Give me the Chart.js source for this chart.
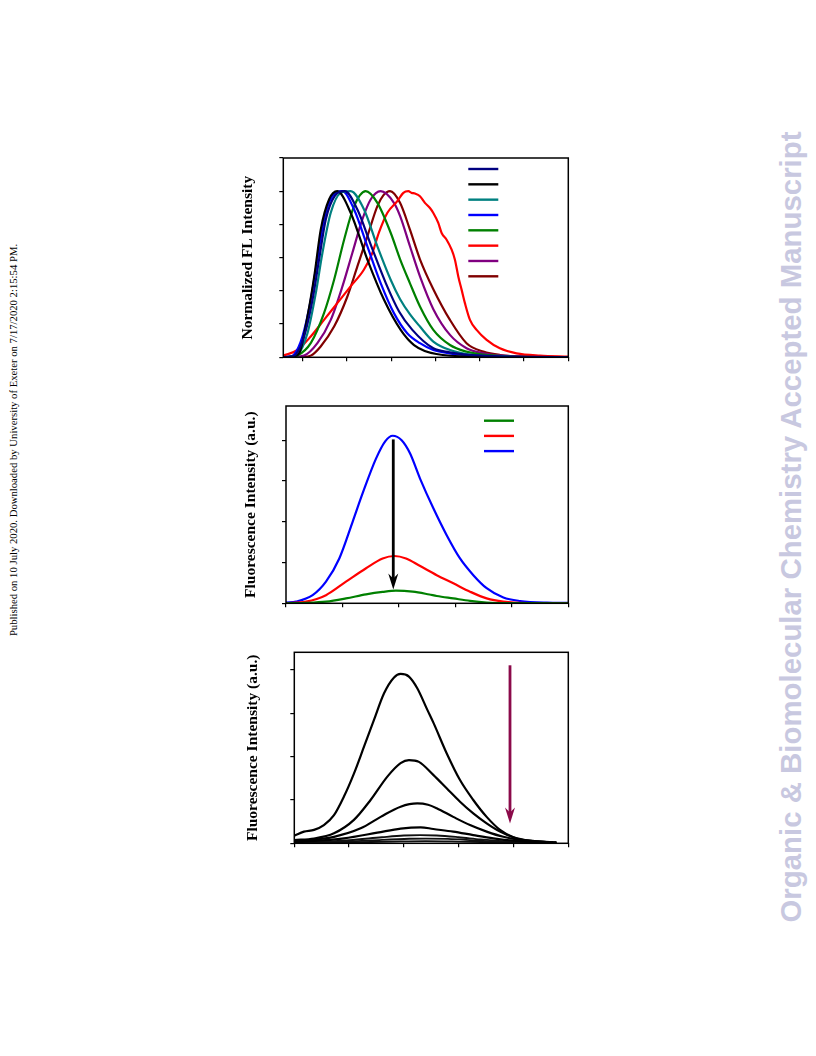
<!DOCTYPE html>
<html>
<head>
<meta charset="utf-8">
<script src="https://cdn.jsdelivr.net/npm/chart.js@4.4.0/dist/chart.umd.min.js"></script>
<style>
  body { margin: 0; background: #fff; width: 816px; height: 1056px; position: relative; overflow: hidden; }
  canvas { position: absolute; left: 0; }
  .side { position: absolute; transform-origin: 0 0; transform: rotate(-90deg) translate(-50%, -50%); white-space: nowrap; }
  #pub { left: 13px; top: 440px; font: 10.7px 'Liberation Serif', 'Times New Roman', serif; color: #000; }
  #wm { left: 791px; top: 527px; font: bold 29.4px 'Liberation Sans', Arial, sans-serif; color: #c8c8e0; }
</style>
</head>
<body>
<div id="pub" class="side">Published on 10 July 2020. Downloaded by University of Exeter on 7/17/2020 2:15:54 PM.</div>
<div id="wm" class="side">Organic &amp; Biomolecular Chemistry Accepted Manuscript</div>
<canvas id="c1" width="816" height="240" style="top:130px"></canvas>
<canvas id="c2" width="816" height="230" style="top:390px"></canvas>
<canvas id="c3" width="816" height="225" style="top:640px"></canvas>
<script>
// --- panel 1: normalized emission, 8 solvents ---
var xTicks1 = [450, 500, 550, 600, 650, 700, 750];
var yTicks1 = [0, 0.2, 0.4, 0.6, 0.8, 1.0, 1.2];
var fl_navy = [[428,0],[436,0.003],[442,0.016],[451.5,0.125],[461,0.346],[468.4,0.588],[476,0.83],[486,0.97],[497.4,1.0],[511.7,0.89],[527.5,0.668],[543.8,0.447],[558.8,0.276],[573.8,0.165],[597.5,0.054],[616,0.03],[635,0.016],[672,0.006],[710,0.002],[750,0]];
var fl_black = [[428,0],[438,0.004],[445.9,0.024],[456,0.266],[463.5,0.507],[470.3,0.769],[479.7,0.95],[489,1.0],[504.2,0.869],[523,0.588],[541.8,0.346],[560.6,0.165],[575.7,0.074],[601,0.02],[650,0.004],[700,0],[750,0]];
var fl_teal = [[428,0],[436,0.003],[444,0.016],[455.3,0.145],[464.7,0.386],[472.2,0.628],[481.6,0.87],[492.9,0.99],[504,1.0],[519.2,0.89],[534.3,0.668],[549.3,0.467],[560,0.35],[571,0.26],[582.4,0.185],[597.5,0.095],[616.3,0.044],[635,0.02],[665,0.006],[700,0.001],[750,0]];
var fl_blue = [[428,0],[434,0.004],[440,0.016],[449.6,0.125],[459,0.346],[466.5,0.588],[474,0.83],[483.5,0.97],[494.8,1.0],[508,0.89],[523,0.668],[538,0.447],[553,0.266],[568,0.145],[582.4,0.085],[597.5,0.044],[616,0.024],[635,0.014],[672,0.004],[750,0]];
var fl_green = [[428,0],[436,0.002],[444,0.01],[459,0.085],[474,0.266],[485.4,0.467],[496.7,0.708],[508,0.91],[521,1.0],[534.3,0.93],[549.3,0.75],[560,0.59],[571,0.447],[582.4,0.306],[597.5,0.165],[616.3,0.074],[635,0.034],[654,0.016],[680,0.006],[720,0.001],[750,0]];
var fl_red = [[428,0.01],[444,0.044],[459,0.125],[474,0.225],[489,0.326],[504,0.427],[519,0.527],[528.6,0.628],[536,0.75],[545.6,0.87],[556.8,0.94],[563.6,0.99],[569.3,1.0],[573,0.99],[576.8,0.986],[582.4,0.97],[588,0.93],[593.7,0.899],[597.5,0.869],[603.1,0.809],[606.9,0.748],[612.5,0.708],[618.2,0.648],[621.9,0.588],[625.7,0.487],[629.5,0.406],[633.2,0.326],[638.9,0.225],[646.4,0.165],[657.7,0.105],[672.7,0.054],[691.5,0.024],[718,0.01],[750,0.004]];
var fl_purple = [[428,0],[440,0.002],[451.5,0.01],[466.5,0.085],[481.6,0.225],[494.8,0.427],[506,0.628],[517.3,0.83],[526.7,0.95],[538,1.0],[553,0.93],[560,0.85],[571,0.67],[582.4,0.487],[597.5,0.29],[616.3,0.135],[635,0.055],[654,0.024],[680,0.008],[718,0.003],[750,0]];
var fl_maroon = [[428,0],[450,0.002],[459,0.01],[470,0.064],[485.4,0.185],[500.4,0.366],[511.7,0.547],[523,0.728],[534.3,0.91],[541,0.975],[548.6,1.0],[559.9,0.93],[571,0.77],[582.4,0.59],[597.5,0.41],[616.3,0.225],[635,0.085],[654,0.034],[672.7,0.014],[710,0.004],[750,0]];

// --- panel 2: quenching, 3 spectra ---
var xTicks2 = [400, 450, 500, 550, 600, 650];
var yTicks2 = [0, 1, 2, 3, 4];
var q_green = [[400,0],[418,0.01],[435.4,0.04],[453.1,0.12],[470.9,0.22],[485.6,0.28],[497.4,0.31],[512.2,0.285],[527,0.215],[533.5,0.18],[548.2,0.12],[563,0.06],[577.7,0.02],[595,0.003],[650,0]];
var q_red = [[400,0.005],[417.7,0.04],[435.4,0.2],[453.1,0.53],[470.9,0.86],[485.6,1.1],[496,1.16],[506.3,1.1],[518.4,0.92],[533.5,0.69],[548.2,0.49],[563,0.285],[577.7,0.12],[592.5,0.04],[613,0.005],[650,0]];
var q_blue = [[400,0.015],[408.9,0.04],[423.6,0.2],[435.4,0.53],[447.2,1.1],[459,2.0],[467.9,2.7],[479.7,3.55],[488,3.98],[494.5,4.11],[502.4,4.0],[509.8,3.68],[518.7,3.06],[530.5,2.33],[542.3,1.67],[554.1,1.1],[565.9,0.69],[577.7,0.37],[592.5,0.14],[607.3,0.056],[631,0.016],[650,0.01]];
var arrow2 = [495, 4.02, 0.34];

// --- panel 3: titration series ---
var xTicks3 = [400, 450, 500, 550, 600, 650];
var yTicks3 = [0, 1, 2, 3, 4];
var t1 = [[400,0.176],[408.8,0.27],[418,0.31],[427,0.42],[436.2,0.65],[445.3,1.08],[454.4,1.61],[463.6,2.23],[472.7,2.85],[481.8,3.46],[491,3.83],[497,3.91],[504.6,3.85],[512.2,3.58],[521.4,3.08],[527,2.78],[539,2.08],[551.2,1.46],[563.3,1.0],[575.5,0.61],[587.7,0.31],[599.8,0.14],[612,0.06],[630,0.03],[639.4,0.015]];
var t2 = [[400,0.076],[418,0.11],[436.2,0.23],[454.4,0.54],[469.6,1.0],[484.9,1.54],[497,1.85],[504.6,1.92],[513.7,1.88],[526.8,1.58],[539,1.27],[551.2,0.96],[563.3,0.69],[575.5,0.46],[587.7,0.27],[599.8,0.14],[615,0.06],[636,0.02]];
var t3 = [[400,0.038],[436.2,0.15],[460.5,0.345],[478.8,0.61],[497,0.845],[512.2,0.92],[522,0.89],[529.9,0.81],[545,0.61],[560.3,0.42],[575.5,0.27],[590.7,0.15],[605.9,0.08],[630,0.03],[639,0.02]];
var t4 = [[400,0.023],[445.3,0.115],[475.7,0.245],[497,0.34],[515.3,0.37],[526.8,0.33],[545,0.27],[563.3,0.19],[581.6,0.115],[599.8,0.06],[624,0.023],[639,0.015]];
var t5 = [[400,0.01],[450,0.07],[480,0.14],[500,0.18],[515,0.19],[530,0.18],[550,0.14],[570,0.09],[590,0.05],[610,0.025],[639,0.008]];
var t6 = [[400,0.005],[450,0.04],[480,0.08],[505,0.105],[520,0.11],[540,0.1],[560,0.075],[580,0.045],[600,0.025],[639,0.005]];
var t7 = [[400,0.003],[450,0.02],[490,0.04],[520,0.05],[550,0.04],[590,0.02],[639,0.003]];
var arrow3 = [596.8, 4.11, 0.46];

function pts(a) {
    return a.map(p => ({x: p[0], y: p[1]}));
}

function line(arr, color, w) {
    return {data: pts(arr), borderColor: color, borderWidth: w || 2.2, pointRadius: 0,
        cubicInterpolationMode: 'monotone', fill: false};
}

function axis(min, max, ticks, title, pad) {
    var s = {
        type: 'linear', min: min, max: max,
        afterBuildTicks: sc => { sc.ticks = ticks.map(v => ({value: v})); },
        ticks: {display: false},
        grid: {drawOnChartArea: false, drawTicks: true, tickLength: 4, color: '#000', lineWidth: 1.2},
        border: {display: false}
    };
    if (title) {
        s.title = {display: true, text: title, color: '#000',
            font: {family: "'Liberation Serif', 'Times New Roman', serif", size: 15.5, weight: 'bold'},
            padding: {top: 0, bottom: pad}};
    }
    return s;
}

// box round the plot area
var framePlugin = {
    id: 'frame',
    afterDraw: function (chart) {
        var a = chart.chartArea, ctx = chart.ctx;
        ctx.save();
        ctx.strokeStyle = '#000';
        ctx.lineWidth = 1.5;
        ctx.strokeRect(a.left, a.top, a.right - a.left, a.bottom - a.top);
        ctx.restore();
    }
};

// legend samples without text
var keyPlugin = {
    id: 'lineKey',
    afterDatasetsDraw: function (chart, args, o) {
        if (!o.show) return;
        var a = chart.chartArea, ctx = chart.ctx;
        ctx.save();
        ctx.lineWidth = 2.4;
        chart.data.datasets.forEach((ds, i) => {
            var y = a.top + o.top + i * o.step;
            ctx.strokeStyle = ds.borderColor;
            ctx.beginPath();
            ctx.moveTo(a.left + o.left, y);
            ctx.lineTo(a.left + o.left + 30, y);
            ctx.stroke();
        });
        ctx.restore();
    }
};

var arrowPlugin = {
    id: 'arrow',
    afterDatasetsDraw: function (chart, args, o) {
        if (!o.at) return;
        var ctx = chart.ctx;
        var x = chart.scales.x.getPixelForValue(o.at[0]);
        var y0 = chart.scales.y.getPixelForValue(o.at[1]);
        var y1 = chart.scales.y.getPixelForValue(o.at[2]);
        ctx.save();
        ctx.strokeStyle = o.color;
        ctx.fillStyle = o.color;
        ctx.lineWidth = 2.8;
        ctx.beginPath();
        ctx.moveTo(x, y0);
        ctx.lineTo(x, y1 - 10);
        ctx.stroke();
        ctx.beginPath();
        ctx.moveTo(x, y1);
        ctx.lineTo(x - 5, y1 - 16);
        ctx.lineTo(x, y1 - 11);
        ctx.lineTo(x + 5, y1 - 16);
        ctx.closePath();
        ctx.fill();
        ctx.restore();
    }
};

function makeChart(id, datasets, scales, padding, extra) {
    return new Chart(document.getElementById(id), {
        type: 'line',
        data: {datasets: datasets},
        options: {
            responsive: false,
            animation: false,
            layout: {padding: padding},
            scales: scales,
            plugins: Object.assign({legend: {display: false}, tooltip: {enabled: false}}, extra)
        },
        plugins: [framePlugin, keyPlugin, arrowPlugin]
    });
}

makeChart('c1', [
    line(fl_navy, '#000080'),
    line(fl_black, '#000000'),
    line(fl_teal, '#008080'),
    line(fl_blue, '#0000ff'),
    line(fl_green, '#008000'),
    line(fl_red, '#ff0000'),
    line(fl_purple, '#800080'),
    line(fl_maroon, '#800000')
], {
    x: axis(428, 750, xTicks1),
    y: axis(0, 1.2, yTicks1, 'Normalized FL Intensity', 21.7)
}, {left: 239, right: 247.7, top: 28, bottom: 8.7},
{lineKey: {show: true, left: 185, top: 11, step: 15.33}, arrow: {}});

makeChart('c2', [
    line(q_green, '#008000'),
    line(q_red, '#ff0000'),
    line(q_blue, '#0000ff')
], {
    x: axis(400, 650, xTicks2),
    y: axis(0, 4.84, yTicks2, 'Fluorescence Intensity (a.u.)', 22.2)
}, {left: 241.2, right: 247.7, top: 16, bottom: 12.7},
{lineKey: {show: true, left: 198, top: 14.7, step: 15.2}, arrow: {at: arrow2, color: '#000'}});

makeChart('c3', [
    line(t1, '#000'), line(t2, '#000'), line(t3, '#000'), line(t4, '#000'),
    line(t5, '#111', 1.8), line(t6, '#111', 1.8), line(t7, '#111', 1.8)
], {
    x: axis(400, 650, xTicks3),
    y: axis(0, 4.41, yTicks3, 'Fluorescence Intensity (a.u.)', 28.5)
}, {left: 243.2, right: 247.7, top: 12.3, bottom: 17.7},
{lineKey: {show: false}, arrow: {at: arrow3, color: '#8b0a4a'}});
</script>
</body>
</html>
